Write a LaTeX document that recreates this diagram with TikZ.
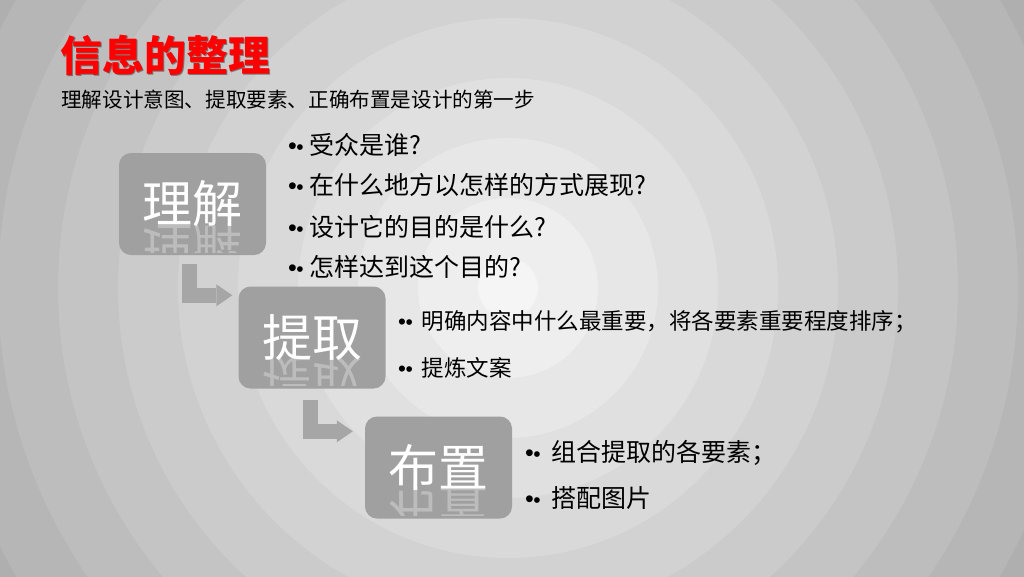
\documentclass[tikz,border=0pt]{standalone}
\usepackage{fontspec}
\usepackage{graphicx}
\usetikzlibrary{arrows.meta,calc}
\newfontfamily\cjk{Noto Sans CJK SC}
\newfontfamily\bul{Liberation Sans}
\definecolor{boxgray}{RGB}{160,160,160}
\definecolor{arrowgray}{RGB}{166,166,166}
\definecolor{titlered}{RGB}{255,0,0}
\tikzset{
  stepbox/.style={fill=boxgray, rounded corners=12pt, minimum width=147pt, minimum height=102pt, inner sep=0pt,
    text=white, font=\cjk\fontsize{50}{60}\selectfont},
  reflbox/.style={inner sep=0pt, text=white, opacity=0.3, font=\cjk\fontsize{50}{60}\selectfont},
  flowarrow/.style={draw=arrowgray, line width=15pt, line join=miter, line cap=butt,
    -{Triangle[length=16pt,width=22pt,line width=0pt]}},
  itemA/.style={anchor=west, inner sep=0pt, text=black, font=\cjk\fontsize{25}{30}\selectfont},
  itemB/.style={anchor=west, inner sep=0pt, text=black, font=\cjk\fontsize{22.5}{27}\selectfont},
}
\newcommand{\bb}{{\bul\textbullet\kern-0.5pt{\fontsize{21}{22}\selectfont\textbullet}}}
\begin{document}
\begin{tikzpicture}[x=1pt,y=-1pt]
\path[use as bounding box] (0,0) rectangle (1024,576);
% background rings
\begin{scope}
\clip (0,0) rectangle (1024,576);
\foreach \k in {11,10,...,0}{
  \pgfmathtruncatemacro\g{245-7*\k}
  \definecolor{rc}{RGB}{\g,\g,\g}
  \fill[rc] (508,288) circle ({30+60*\k});
}
\end{scope}
% title
\node[anchor=west, inner sep=0pt, text=black, opacity=0.4, font=\cjk\bfseries\fontsize{42}{50}\selectfont] (titleshadow) at (61.5,56.5) {信息的整理};
\node[anchor=west, inner sep=0pt, text=titlered, font=\cjk\bfseries\fontsize{42}{50}\selectfont] (title) at (60,55) {信息的整理};
\node[anchor=west, inner sep=0pt, text=black, font=\cjk\fontsize{20.6}{24}\selectfont] (sub) at (61,100) {理解设计意图、提取要素、正确布置是设计的第一步};
% boxes
\node[stepbox] (b1) at (192.5,204) {理解};
\node[stepbox] (b2) at (312,337.5) {提取};
\node[stepbox] (b3) at (438.5,467.5) {布置};
% reflections
\foreach \b/\t in {b1/理解,b2/提取,b3/布置}{
  \begin{scope}
  \clip ($(\b.west)+(0,19)$) rectangle ($(\b.south east)+(0,-3)$);
  \node[reflbox] (\b r) at ($(\b.center)+(0,42)$) {\scalebox{1}[-1]{\t}};
  \end{scope}
}
% arrows
\draw[flowarrow] ($(b1.south west)+(71,9)$) |- ($(b2.north west)+(-6,9)$);
\draw[flowarrow] ($(b2.south west)+(72,11)$) |- ($(b3.north west)+(-12,15)$);
% lists
\node[itemA] (p1) at (288,145) {\bb\hspace{6pt}受众是谁?};
\node[itemA] (p2) at (288,185) {\bb\hspace{6pt}在什么地方以怎样的方式展现?};
\node[itemA] (p3) at (288,227) {\bb\hspace{6pt}设计它的目的是什么?};
\node[itemA] (p4) at (288,267) {\bb\hspace{6pt}怎样达到这个目的?};
\node[itemB] (q1) at (398,322) {\bb\hspace{9pt}明确内容中什么最重要，将各要素重要程度排序；};
\node[itemB] (q2) at (398,368) {\bb\hspace{9pt}提炼文案};
\node[itemA] (r1) at (525,453) {\bb\hspace{11pt}组合提取的各要素；};
\node[itemA] (r2) at (525,498) {\bb\hspace{11pt}搭配图片};
\end{tikzpicture}
\end{document}
